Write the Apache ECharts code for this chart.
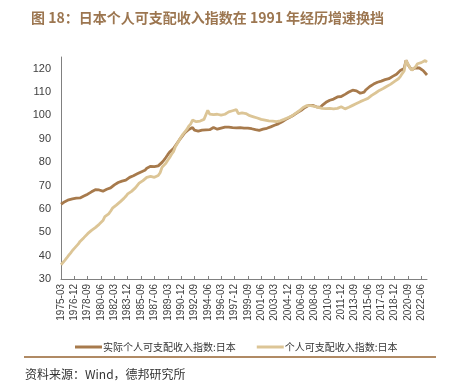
<!DOCTYPE html>
<html><head><meta charset="utf-8">
<script src="https://cdn.jsdelivr.net/npm/echarts@6/dist/echarts.min.js"></script>
<style>html,body{margin:0;padding:0;background:#fff}#c{width:452px;height:392px}</style>
</head><body><div id="c"></div>
<script>
// Quarterly from 1975-03 to 2023-03
const startYear = 1975;
const quarterMonths = ['03','06','09','12'];
const realIndex = [
 62.0,62.6,63.1,63.5, 63.9,64.1,64.3,64.5, 64.6,64.5,64.7,65.0, 65.5,65.9,66.3,66.8,
 67.3,68.0,68.2,68.0, 68.1,67.8,67.6,68.2, 68.4,68.3,69.0,69.8, 70.3,71.0,71.3,71.5,
 71.9,72.4,72.3,72.9, 73.5,73.8,74.2,74.5, 75.0,75.4,75.8,76.2, 76.5,77.4,78.0,78.2,
 78.0,78.1,78.0,78.4, 78.9,79.9,80.9,82.0, 83.2,84.3,85.0,85.8, 87.0,88.2,89.4,90.5,
 91.6,92.6,93.3,94.0, 94.3,94.8,93.7,93.4, 93.3,93.5,93.7,93.6, 93.8,93.3,93.9,94.3,
 94.8,94.2,94.1,94.5, 94.6,94.8,95.0,95.1, 95.0,94.7,94.8,94.9, 94.7,95.1,94.8,94.7,
 94.6,94.5,94.6,94.4, 94.3,94.2,93.9,93.7, 93.6,93.8,94.1,94.3, 94.5,94.8,95.1,95.3,
 95.8,95.9,96.4,96.9, 97.3,97.9,98.3,98.7, 99.2,99.7,100.1,100.7, 101.2,101.7,102.2,102.8,
 103.4,103.9,104.3,104.4, 104.3,104.0,103.7,103.5, 103.4,104.3,105.1,105.6, 106.3,106.5,107.2,107.0,
 107.3,107.9,107.5,108.1, 108.6,109.0,109.6,110.0, 110.5,110.8,110.6,110.5, 110.5,109.5,109.3,110.0,
 111.0,111.8,112.4,112.9, 113.4,113.9,114.2,114.5, 114.7,115.0,115.3,115.5, 115.7,116.3,116.7,117.0,
 117.6,118.3,119.2,119.6, 120.1,123.6,121.8,120.5, 119.6,119.4,120.4,120.6, 120.3,119.8,119.2,118.4,
 117.3
];
const nominalIndex = [
 36.1,36.8,38.0,39.0, 40.1,41.1,42.2,43.1, 43.9,44.9,46.1,46.9, 47.7,48.5,49.4,50.2,
 50.8,51.4,52.0,52.6, 53.4,54.2,55.0,56.7, 57.0,57.9,59.0,60.3, 61.0,61.6,62.0,63.0,
 63.8,64.5,65.4,66.4, 66.8,67.5,68.1,69.0, 69.8,71.0,70.8,72.1, 72.8,73.5,73.8,73.9,
 73.6,73.5,73.2,74.3, 75.5,77.8,78.6,79.5, 80.8,82.0,83.4,84.5, 86.6,88.0,89.4,90.8,
 92.0,93.0,94.0,95.4, 96.3,98.0,97.5,97.3, 97.3,97.6,98.0,98.3, 98.7,102.2,100.6,100.1,
 100.3,100.8,100.5,100.3, 100.1,100.4,100.5,100.8, 101.5,101.6,102.0,102.2, 102.5,100.8,101.2,101.1,
 101.0,100.8,100.1,99.9, 99.7,99.4,99.2,98.9, 98.4,98.3,98.1,98.0, 97.9,97.7,98.0,97.6,
 97.4,97.3,97.5,97.7, 97.8,98.3,98.7,99.0, 99.4,99.7,100.3,100.9, 101.5,102.0,102.7,103.4,
 103.8,104.2,104.4,104.2, 104.0,103.9,103.6,103.4, 103.2,103.0,102.9,102.9, 102.9,103.0,102.9,102.8,
 102.9,103.0,102.9,103.7, 103.2,102.8,102.9,103.5, 103.9,104.3,104.7,105.1, 105.5,105.9,106.2,106.6,
 106.8,107.3,108.0,108.6, 109.1,109.6,110.1,110.7, 111.2,111.5,112.0,112.5, 113.0,113.4,113.9,114.6,
 115.2,115.7,116.6,117.9, 119.0,123.6,122.0,120.5, 119.3,119.2,120.8,122.1, 122.4,122.6,123.0,123.5,
 122.8
];
const seriesNames = ['实际个人可支配收入指数:日本','个人可支配收入指数:日本'];
const seriesColors = ['#a77a4c','#dcc596'];
const titleText = '图 18：日本个人可支配收入指数在 1991 年经历增速换挡';
const sourceText = '资料来源：Wind，德邦研究所';

const categories = [];
for (let i = 0; i < realIndex.length; i++) {
  const y = startYear + Math.floor(i / 4);
  categories.push(y + '-' + quarterMonths[i % 4]);
}

const chart = echarts.init(document.getElementById('c'), null, {renderer: 'canvas'});
chart.setOption({
  animation: false,
  backgroundColor: '#fff',
  title: {
    text: titleText, left: 26, top: 6,
    textStyle: {fontSize: 14, fontWeight: 'bold', color: '#9c7650', fontFamily: 'Noto Sans CJK SC'}
  },
  grid: {left: 61, right: 25, top: 57, bottom: 113},
  legend: {
    left: 70, top: 337, itemGap: 21, itemWidth: 27, itemHeight: 3, icon: 'rect',
    data: seriesNames,
    textStyle: {fontSize: 10, color: '#333', fontFamily: 'Noto Sans CJK SC', padding: [0,0,0,-4]}
  },
  xAxis: {
    type: 'category', data: categories, boundaryGap: false,
    axisLine: {lineStyle: {color: '#808080', width: 1}},
    axisTick: {inside: true, length: 3, interval: 6, lineStyle: {color: '#808080'}},
    axisLabel: {interval: 6, rotate: 90, fontSize: 10, color: '#404040', margin: 5, fontFamily: 'Liberation Sans'}
  },
  yAxis: {
    type: 'value', min: 30, max: 125, interval: 10,
    axisLine: {show: true, lineStyle: {color: '#808080', width: 1}},
    axisTick: {show: false},
    splitLine: {show: false},
    axisLabel: {showMaxLabel: false, fontSize: 11, color: '#404040', margin: 10, fontFamily: 'Liberation Sans'}
  },
  series: [
    {name: seriesNames[0], type: 'line', data: realIndex, showSymbol: false, symbol: 'none',
     itemStyle: {color: seriesColors[0]}, lineStyle: {color: seriesColors[0], width: 2.8}},
    {name: seriesNames[1], type: 'line', data: nominalIndex, showSymbol: false, symbol: 'none',
     itemStyle: {color: seriesColors[1]}, lineStyle: {color: seriesColors[1], width: 2.8}}
  ],
  graphic: [
    {type: 'line', shape: {x1: 24, y1: 357, x2: 436, y2: 357}, style: {stroke: '#b08a64', lineWidth: 2}},
    {type: 'text', left: 25, top: 368, style: {text: sourceText, fontSize: 12, fill: '#333', fontFamily: 'Noto Sans CJK SC'}}
  ]
});
</script></body></html>
